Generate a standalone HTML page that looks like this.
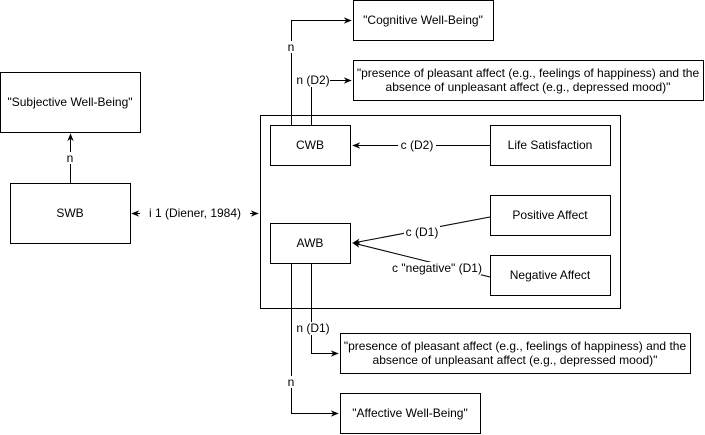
<!DOCTYPE html>
<html><head><meta charset="utf-8"><style>body{margin:0;background:#fff}svg{display:block}</style></head><body>
<svg width="705" height="435" viewBox="0 0 705 435" xmlns="http://www.w3.org/2000/svg" font-family="Liberation Sans, Arial, sans-serif" font-size="12">
<defs><marker id="a" viewBox="0 0 10 10" refX="9" refY="5" markerWidth="8" markerHeight="8" orient="auto-start-reverse"><path d="M0,1 L10,5 L0,9 L3,5 Z" fill="#000"/></marker></defs>
<g fill="#fff" stroke="#000" stroke-width="1">
<rect x="0.5" y="72.5" width="140" height="60"/>
<rect x="10.5" y="183.5" width="120" height="60"/>
<rect x="260.5" y="115.5" width="360" height="193"/>
<rect x="270.5" y="125.5" width="80" height="40"/>
<rect x="490.5" y="125.5" width="120" height="40"/>
<rect x="490.5" y="195.5" width="120" height="40"/>
<rect x="490.5" y="255.5" width="120" height="40"/>
<rect x="270.5" y="223.5" width="80" height="40"/>
<rect x="353.5" y="0.5" width="140" height="40"/>
<rect x="353.5" y="60.5" width="350" height="40"/>
<rect x="340.5" y="333.5" width="350" height="40"/>
<rect x="340.5" y="393.5" width="140" height="40"/>
</g>
<g fill="none" stroke="#000" stroke-width="1">
<path d="M70.5,183 V134" marker-end="url(#a)"/>
<path d="M132,213.5 H258" marker-start="url(#a)" marker-end="url(#a)"/>
<path d="M291.5,125 V20.5 H351" marker-end="url(#a)"/>
<path d="M311.5,125 V80.5 H351" marker-end="url(#a)"/>
<path d="M490,145.5 H353" marker-end="url(#a)"/>
<path d="M490,217 L353,243" marker-end="url(#a)"/>
<path d="M490,277 L353,243" marker-end="url(#a)"/>
<path d="M291.5,264 V413.5 H338" marker-end="url(#a)"/>
<path d="M311.5,264 V353.5 H338" marker-end="url(#a)"/>
</g>
<g fill="#fff">
<rect x="65" y="152" width="11" height="12"/>
<rect x="140" y="207" width="110" height="13"/>
<rect x="286" y="41" width="11" height="12"/>
<rect x="295" y="74" width="35" height="13"/>
<rect x="398" y="139" width="38" height="13"/>
<rect x="404" y="222" width="36" height="13"/>
<rect x="393" y="262" width="88" height="13"/>
<rect x="295" y="322" width="35" height="13"/>
<rect x="286" y="376" width="11" height="12"/>
</g>
<g fill="#000" text-anchor="middle">
<text x="70" y="106">"Subjective Well-Being"</text>
<text x="70" y="217">SWB</text>
<text x="310" y="149">CWB</text>
<text x="550" y="149">Life Satisfaction</text>
<text x="550" y="219">Positive Affect</text>
<text x="550" y="279">Negative Affect</text>
<text x="310" y="247">AWB</text>
<text x="423" y="24">"Cognitive Well-Being"</text>
<text x="528" y="77">"presence of pleasant affect (e.g., feelings of happiness) and the</text>
<text x="528" y="91">absence of unpleasant affect (e.g., depressed mood)"</text>
<text x="515" y="350">"presence of pleasant affect (e.g., feelings of happiness) and the</text>
<text x="515" y="364">absence of unpleasant affect (e.g., depressed mood)"</text>
<text x="410" y="417">"Affective Well-Being"</text>
<text x="70" y="162">n</text>
<text x="195" y="217">i 1 (Diener, 1984)</text>
<text x="291" y="51">n</text>
<text x="313" y="84">n (D2)</text>
<text x="417" y="149">c (D2)</text>
<text x="422" y="236">c (D1)</text>
<text x="437" y="272">c "negative" (D1)</text>
<text x="313" y="332">n (D1)</text>
<text x="291" y="386">n</text>
</g>
</svg>
</body></html>
